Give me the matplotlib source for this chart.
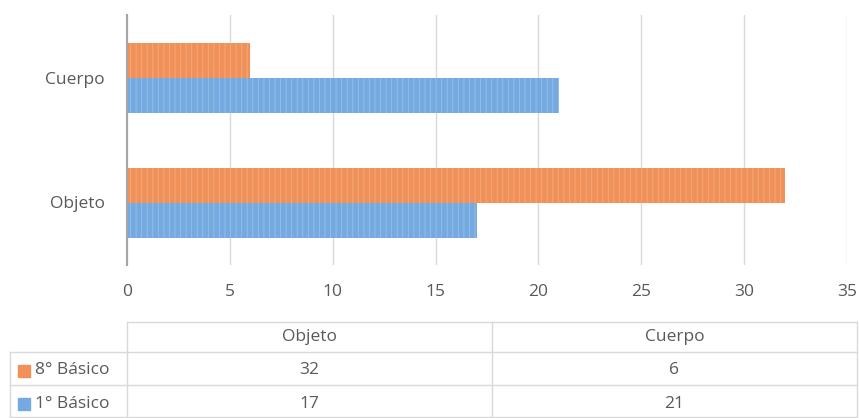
import matplotlib
matplotlib.use("Agg")
import matplotlib.pyplot as plt
from matplotlib.lines import Line2D
from matplotlib.patches import Rectangle

categories = ["Objeto", "Cuerpo"]
series_names = ["8° Básico", "1° Básico"]
values_8 = [32, 6]
values_1 = [17, 21]
xticks = [0, 5, 10, 15, 20, 25, 30, 35]

c_orange = "#F0915A"
c_blue = "#74AADF"
txt = "#595959"
grid = "#D9D9D9"
FS = 12.5

plt.rcParams['font.family'] = ['Open Sans', 'DejaVu Sans']
plt.rcParams['hatch.linewidth'] = 0.6

W, H = 859, 418
fig = plt.figure(figsize=(W / 100, H / 100), dpi=100)

def fx(px): return px / W
def fy(py): return 1 - py / H

ax = fig.add_axes([fx(127), fy(265), fx(847) - fx(127), fy(15) - fy(265)])
h = 0.28
ys = list(range(len(categories)))
ax.barh([y + h / 2 for y in ys], values_8, height=h, color=c_orange,
        hatch='|||', edgecolor='#F4AB7E', linewidth=0, zorder=3)
ax.barh([y - h / 2 for y in ys], values_1, height=h, color=c_blue,
        hatch='|||', edgecolor='#98C0E9', linewidth=0, zorder=3)
ax.set_xlim(0, 35)
ax.set_ylim(-0.5, 1.5)
ax.set_xticks(xticks)
ax.set_xticklabels([str(t) for t in xticks])
ax.set_yticks(ys)
ax.set_yticklabels(categories)
ax.tick_params(axis='both', length=0, colors=txt, labelsize=FS)
ax.tick_params(axis='x', pad=14)
ax.tick_params(axis='y', pad=16)
ax.grid(axis='x', color=grid, linewidth=1, zorder=0)
for s in ['top', 'right', 'bottom']:
    ax.spines[s].set_visible(False)
ax.spines['left'].set_color('#A6A6A6')
ax.spines['left'].set_linewidth(1.5)
ax.spines['left'].set_zorder(4)

# data table
line_c = "#D9D9D9"
x0, x1, x2, x3 = 10, 127, 492, 857
ytop, yh, y1, y2 = 322, 352, 385, 418
def hl(y, xa, xb):
    fig.add_artist(Line2D([fx(xa), fx(xb)], [fy(y), fy(y)], color=line_c, lw=1))
def vl(x, ya, yb):
    fig.add_artist(Line2D([fx(x), fx(x)], [fy(ya), fy(yb)], color=line_c, lw=1))
hl(ytop, x1, x3)
hl(yh, x0, x3)
hl(y1, x0, x3)
hl(y2 - 1, x0, x3)
vl(x0, yh, y2)
vl(x1, ytop, y2)
vl(x2, ytop, y2)
vl(x3, ytop, y2)
col_centers = [(x1 + x2) / 2, (x2 + x3) / 2]
for cx, cat in zip(col_centers, categories):
    fig.text(fx(cx), fy((ytop + yh) / 2), cat, ha='center', va='center', color=txt, fontsize=FS)
rows = [(series_names[0], values_8, c_orange, (yh + y1) / 2 + 2),
        (series_names[1], values_1, c_blue, (y1 + y2) / 2 + 2)]
for name, vals, col, cy in rows:
    fig.add_artist(Rectangle((fx(18), fy(cy) - 6 / H), 12 / W, 12 / H, color=col,
                             transform=fig.transFigure))
    fig.text(fx(35), fy(cy), name, ha='left', va='center', color=txt, fontsize=FS)
    for cx, v in zip(col_centers, vals):
        fig.text(fx(cx), fy(cy), str(v), ha='center', va='center', color=txt, fontsize=FS)

fig.savefig("out.png", dpi=100)
